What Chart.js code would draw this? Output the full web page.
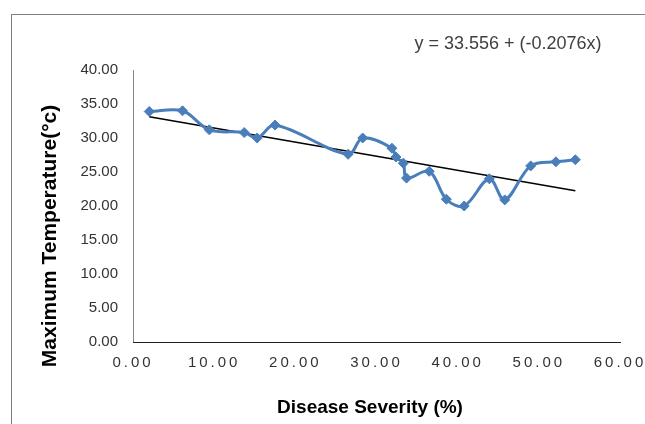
<!DOCTYPE html>
<html>
<head>
<meta charset="utf-8">
<script src="https://cdn.jsdelivr.net/npm/chart.js@4"></script>
<style>
  html, body { margin: 0; padding: 0; background: #fff; }
  #wrap { position: relative; width: 645px; height: 424px; overflow: hidden; }
  #frame { position: absolute; left: 11px; top: 14px; width: 700px; height: 500px; border: 1px solid #7f7f7f; }
  #chart { position: absolute; left: 0; top: 0; }
</style>
</head>
<body>
<div id="wrap">
  <div id="frame"></div>
  <canvas id="chart" width="645" height="424"></canvas>
</div>
<script>
// disease severity (%) vs maximum temperature (°c)
const severity = [2.0, 6.1, 9.4, 13.7, 15.3, 17.5, 26.5, 28.3, 31.9, 32.4, 33.3, 33.7, 36.5, 38.6, 40.8, 43.9, 45.8, 49.0, 52.1, 54.5];
const maxTemp = [33.9, 34.0, 31.2, 30.8, 30.0, 31.9, 27.6, 30.0, 28.5, 27.2, 26.3, 24.1, 25.1, 21.0, 20.0, 24.0, 20.9, 25.9, 26.5, 26.8];

// trend line end points
const trendX = [2.0, 54.5];
const trendY = [33.14, 22.24];

const equation = 'y = 33.556 + (-0.2076x)';
const xTitle = 'Disease Severity (%)';
const yTitle = 'Maximum Temperature(°c)';

const points = severity.map((x, i) => ({ x, y: maxTemp[i] }));
const trend = trendX.map((x, i) => ({ x, y: trendY[i] }));

const textPlugin = {
  id: 'texts',
  beforeDraw(chart) {
    chart.ctx.letterSpacing = '0px';
  },
  afterDatasetsDraw(chart) {
    // x tick labels are drawn after this (ticks.z = 1), spaced out like the original
    chart.ctx.letterSpacing = '3px';
  },
  afterDraw(chart) {
    const ctx = chart.ctx;
    ctx.letterSpacing = '0px';
    ctx.save();
    ctx.fillStyle = '#404040';
    ctx.textAlign = 'center';
    ctx.textBaseline = 'middle';
    ctx.font = '18px "Liberation Sans", Arial, sans-serif';
    ctx.fillText(equation, 508, 44);

    ctx.fillStyle = '#000';
    ctx.font = 'bold 19px "Liberation Sans", Arial, sans-serif';
    ctx.fillText(xTitle, 370, 408);

    ctx.translate(50, 236);
    ctx.rotate(-Math.PI / 2);
    ctx.font = 'bold 21px "Liberation Sans", Arial, sans-serif';
    ctx.fillText(yTitle, 0, 0);
    ctx.restore();
  }
};

const chart = new Chart(document.getElementById('chart'), {
  type: 'scatter',
  data: {
    datasets: [{
      label: 'Max temperature',
      data: points,
      showLine: true,
      tension: 0.35,
      borderColor: '#4a7ebb',
      backgroundColor: '#4a7ebb',
      borderWidth: 3,
      pointStyle: 'rectRot',
      pointRadius: 5,
      pointBorderWidth: 1
    }, {
      label: 'Trend',
      data: trend,
      showLine: true,
      tension: 0,
      borderColor: '#000',
      borderWidth: 1.5,
      pointRadius: 0
    }]
  },
  options: {
    responsive: false,
    animation: false,
    layout: { padding: { left: 0, top: 70, right: 25, bottom: 0 } },
    plugins: {
      legend: { display: false },
      tooltip: { enabled: false }
    },
    scales: {
      y: {
        min: 0,
        max: 40,
        afterFit(s) { s.width = 133; },
        grid: { display: false, drawTicks: false },
        border: { display: true, color: '#888', width: 1 },
        ticks: {
          stepSize: 5,
          padding: 15,
          color: '#333',
          font: { family: '"Liberation Sans", Arial, sans-serif', size: 15 },
          callback: v => v.toFixed(2)
        }
      },
      x: {
        type: 'linear',
        min: 0,
        max: 60,
        afterFit(s) {
          s.height = 82;
          s.paddingLeft = 0;
          s.paddingRight = 0;
        },
        grid: { display: false, drawTicks: false },
        border: { display: true, color: '#222', width: 1 },
        ticks: {
          z: 1,
          stepSize: 10,
          padding: 12,
          color: '#333',
          maxRotation: 0,
          font: { family: '"Liberation Sans", Arial, sans-serif', size: 15 },
          callback: v => v.toFixed(2)
        }
      }
    }
  },
  plugins: [textPlugin]
});
</script>
</body>
</html>
